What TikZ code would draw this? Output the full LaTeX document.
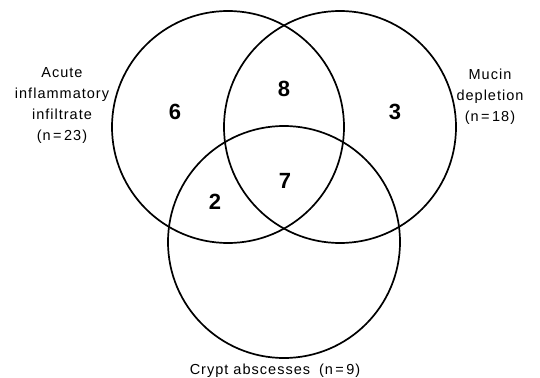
\documentclass[tikz,border=0pt]{standalone}
\usepackage{fontspec}
\setmainfont{Liberation Sans}
\newfontfamily\lblfont[LetterSpace=7]{Liberation Sans}
\begin{document}
\begin{tikzpicture}[x=1pt,y=-1pt,
  ring/.style={draw=black,line width=1.7pt},
  count/.style={font=\fontsize{22}{22}\selectfont\bfseries,inner sep=0pt},
  lbl/.style={font=\lblfont\fontsize{14.5}{21}\selectfont,align=center,inner sep=0pt}]
\useasboundingbox (0,0) rectangle (540,377);
\draw[ring] (228,127) circle (116);
\draw[ring] (340,127) circle (116);
\draw[ring] (284,242) circle (116);
\node[count] (n6) at (175,112) {6};
\node[count] (n8) at (284,89) {8};
\node[count] (n3) at (395,112) {3};
\node[count] (n7) at (285,181) {7};
\node[count] (n2) at (215,202) {2};
\node[lbl] (la) at (62,106) {Acute\\inflammatory\\infiltrate\\(n\,=\,23)};
\node[lbl] (lb) at (490,97) {Mucin\\depletion\\(n\,=\,18)};
\node[lbl] (lc) at (275,371) {Crypt abscesses\hspace{9pt}(n\,=\,9)};
\end{tikzpicture}
\end{document}
